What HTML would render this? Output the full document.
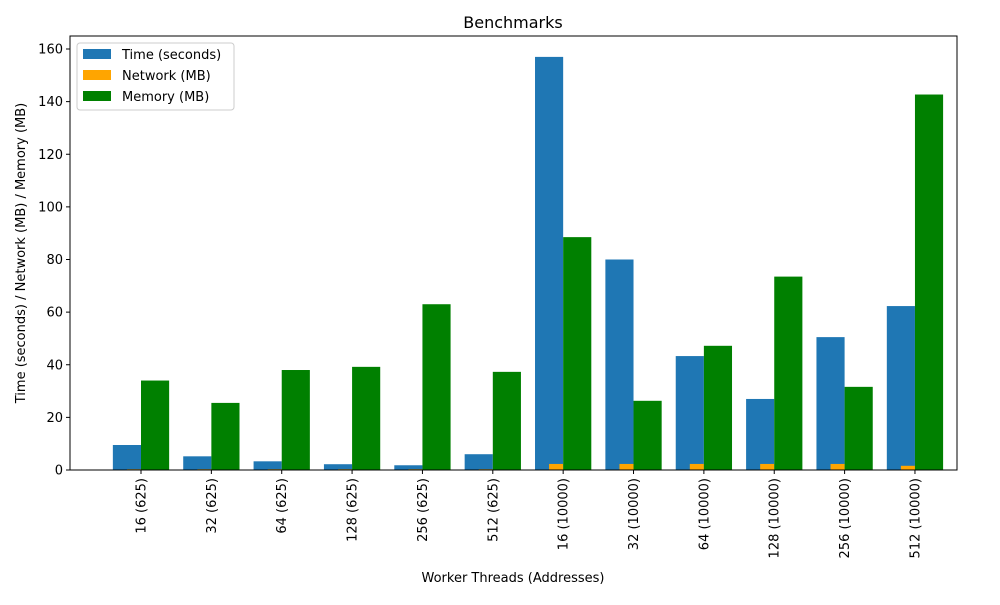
<!DOCTYPE html>
<html><head><meta charset="utf-8"><style>
body{margin:0;background:#fff;font-family:"Liberation Sans","DejaVu Sans",sans-serif;}
svg text{font-family:"DejaVu Sans","Liberation Sans",sans-serif;}
</style></head><body>
<svg id="chart" width="1000" height="600" xmlns="http://www.w3.org/2000/svg">
<rect width="1000" height="600" fill="#fff"/>
<g id="bars"></g><g id="axes"></g>
</svg>
<script>
const categories=["16 (625)","32 (625)","64 (625)","128 (625)","256 (625)","512 (625)","16 (10000)","32 (10000)","64 (10000)","128 (10000)","256 (10000)","512 (10000)"];
const timeVals=[9.5,5.2,3.3,2.2,1.8,6.0,157,80,43.3,27,50.5,62.3];
const networkVals=[0.3,0.3,0.3,0.3,0.3,0.3,2.3,2.3,2.3,2.3,2.3,1.6];
const memoryVals=[34,25.5,38,39.2,63,37.3,88.5,26.3,47.2,73.5,31.6,142.7];
const yTicks=[0,20,40,60,80,100,120,140,160];

const NS="http://www.w3.org/2000/svg";
const L=70,R=957,T=36,B=470;
const x0=141,step=70.36;
const xs=i=>x0+i*step;
const ys=v=>B-v*(B-49)/160;
const bars=document.getElementById('bars'),axes=document.getElementById('axes');
function mk(tag,attrs,parent){const e=document.createElementNS(NS,tag);for(const k in attrs)e.setAttribute(k,attrs[k]);parent.appendChild(e);return e;}
function bar(parent,x,w,v,fill,name){
 const r=mk('rect',{x:x,y:ys(v),width:w,height:B-ys(v),fill:fill},parent);
 
 
}
categories.forEach((c,i)=>{
 const x=xs(i);
 bar(bars,x-0.4*step,0.4*step,timeVals[i],'#1f77b4','bar-time');
 bar(bars,x-0.2*step,0.2*step,networkVals[i],'#ffa500','bar-network');
 bar(bars,x,0.4*step,memoryVals[i],'#008000','bar-memory');
 mk('line',{x1:x,x2:x,y1:B,y2:B+4,stroke:'#000','stroke-width':1},axes);
 const t=mk('text',{x:0,y:0,transform:`translate(${x+4.5},${B+8}) rotate(-90)`,'text-anchor':'end','font-size':13},axes);
 t.textContent=c;
 
 
});
yTicks.forEach(v=>{
 const y=ys(v);
 mk('line',{x1:L-4,x2:L,y1:y,y2:y,stroke:'#000'},axes);
 const t=mk('text',{x:L-7,y:y+4.5,'text-anchor':'end','font-size':13},axes);
 t.textContent=v;
 
 
});
mk('rect',{x:L,y:T,width:R-L,height:B-T,fill:'none',stroke:'#000','stroke-width':1},axes);
</script>
<svg style="position:absolute;left:0;top:0" width="1000" height="600" xmlns="http://www.w3.org/2000/svg">
<text x="513" y="28" text-anchor="middle" font-size="16">Benchmarks</text>
<text x="513" y="582" text-anchor="middle" font-size="13">Worker Threads (Addresses)</text>
<text transform="translate(25,253) rotate(-90)" text-anchor="middle" font-size="13">Time (seconds) / Network (MB) / Memory (MB)</text>
<g>
<rect x="77" y="43" width="157" height="67" fill="#fff" stroke="#ccc" rx="3"/>
<rect x="83" y="49" width="28" height="10" fill="#1f77b4"/>
<text x="122" y="59" font-size="13">Time (seconds)</text>
<rect x="83" y="70" width="28" height="10" fill="#ffa500"/>
<text x="122" y="80" font-size="13">Network (MB)</text>
<rect x="83" y="91" width="28" height="10" fill="#008000"/>
<text x="122" y="101" font-size="13">Memory (MB)</text>
</g>
</svg>
</body></html>
